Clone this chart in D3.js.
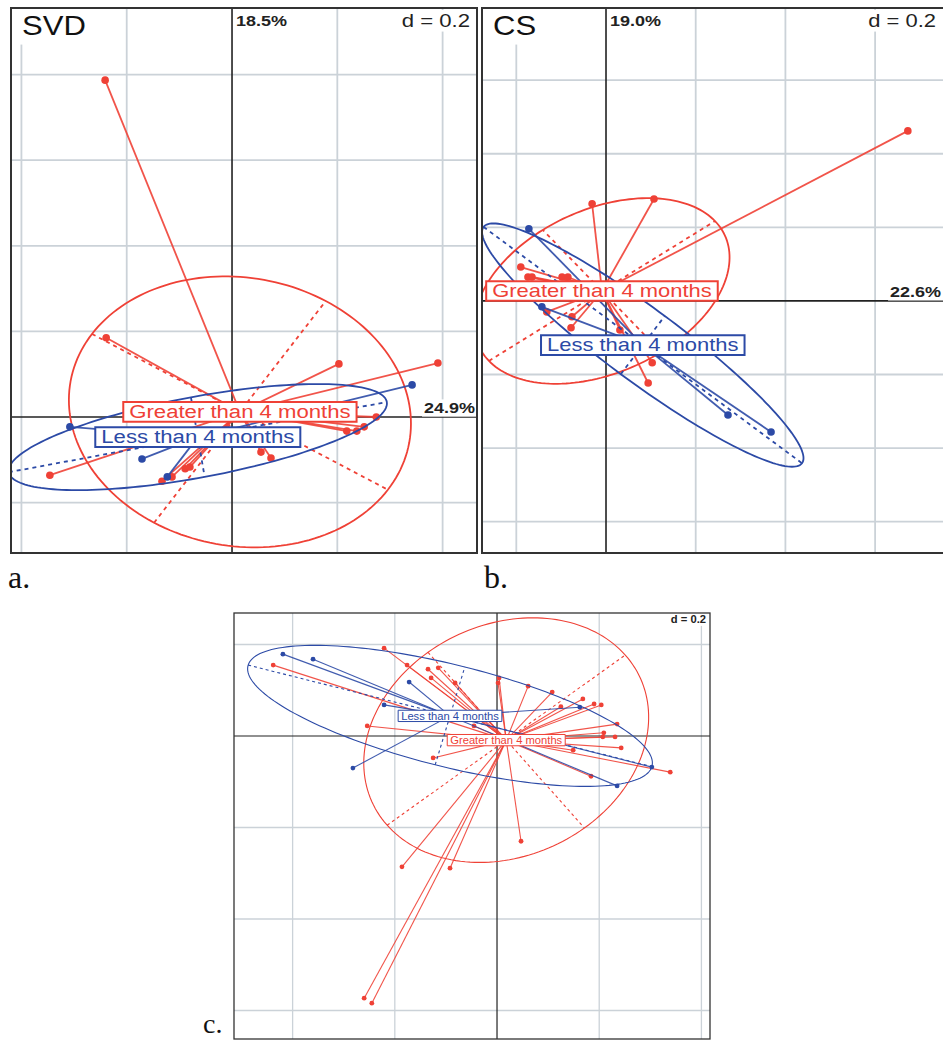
<!DOCTYPE html>
<html><head><meta charset="utf-8">
<script src="https://cdn.jsdelivr.net/npm/d3@7"></script>
<style>body{margin:0;background:#fff}svg{display:block}</style>
</head><body>
<svg id="chart" width="943" height="1041"></svg>
<script>
// ---------------- DATA ----------------
const groupNames = ["Greater than 4 months", "Less than 4 months"];
const gridStep = 0.2;

// Panel a: SVD
const svdGreater = [[-0.241,0.787],[-0.239,0.185],[0.203,0.124],[0.391,0.126],[0.218,-0.033],[0.237,-0.033],[0.251,-0.023],[0.274,0.000],[-0.346,-0.136],[0.055,-0.082],[0.074,-0.096],[-0.133,-0.150],[-0.114,-0.140],[-0.089,-0.121],[-0.080,-0.117]];
const svdLess = [[0.342,0.075],[-0.308,-0.023],[-0.171,-0.098],[-0.123,-0.140]];
const svdCentroids = [[0.015,0.012],[-0.065,-0.047]];
const svdEllipseAxes = [[[0.281,-0.182],[0.163,0.259]],[[0.359,0.082],[0.013,-0.093]]];
const svdInertia = ["24.9%","18.5%"];

// Panel b: CS
const csGreater = [[0.673,0.462],[0.107,0.277],[-0.031,0.264],[-0.190,0.092],[-0.174,0.065],[-0.165,0.065],[-0.098,0.065],[-0.085,0.065],[-0.132,-0.030],[-0.076,-0.043],[-0.078,-0.073],[0.031,-0.079],[0.103,-0.168],[0.094,-0.223]];
const csLess = [[-0.172,0.196],[-0.143,-0.016],[0.272,-0.310],[0.368,-0.356]];
const csCentroids = [[-0.009,0.027],[0.082,-0.120]];
const csEllipseAxes = [[[0.252,0.190],[-0.132,0.166]],[[0.355,-0.321],[0.049,0.079]]];
const csInertia = ["22.6%","19.0%"];

// Panel c
const cGreater = [[-0.438,0.155],[-0.221,0.192],[-0.176,0.155],[-0.135,0.146],[-0.115,0.149],[-0.129,0.127],[-0.082,0.116],[-0.254,0.022],[0.004,0.127],[0.002,0.116],[0.061,0.109],[0.108,0.096],[0.125,0.064],[0.168,0.081],[0.190,0.070],[0.204,0.068],[0.235,0.026],[0.209,0.007],[0.207,-0.002],[0.231,-0.002],[0.243,-0.026],[0.149,-0.031],[0.184,-0.088],[0.339,-0.079],[-0.125,-0.048],[-0.186,-0.286],[-0.092,-0.289],[0.047,-0.230],[-0.260,-0.573],[-0.245,-0.584],[-0.045,0.022]];
const cLess = [[-0.419,0.179],[-0.360,0.168],[-0.172,0.118],[-0.221,0.068],[-0.282,-0.070],[0.162,0.063],[0.303,-0.068],[0.235,-0.109]];
const cCentroids = [[0.018,-0.009],[-0.092,0.044]];
const cEllipseAxes = [[[0.233,0.186],[0.153,-0.192]],[[0.395,-0.111],[0.029,0.107]]];

const panelTitles = ["SVD","CS",""];
const panelLetters = ["a.","b.","c."];

// ---------------- STYLE / LAYOUT ----------------
const RED = "#EF4136", BLUE = "#2C4AA6", GRID = "#CBD2D8";
const FONT = "'Liberation Sans', Arial, sans-serif";
const svg = d3.select("#chart");

const layouts = [
  {id:"a", xd:[-0.4198,0.4653], xr:[11,477], yd:[-0.3178,0.9556], yr:[553,8], sx:1.23, lw:1.8, r:3.8, dash:"4,4", lab:18, frameW:2},
  {id:"b", xd:[-0.2765,0.767], xr:[482,950], yd:[-0.685,0.796], yr:[553,8], sx:1.22, lw:1.8, r:3.8, dash:"4,4", lab:18, frameW:2},
  {id:"c", xd:[-0.5147,0.4168], xr:[234,710], yd:[-0.6623,0.2689], yr:[1039,613], sx:1.12, lw:1.1, r:2.4, dash:"3,3", lab:10, frameW:1.3}
];

function addText(parent, x, y, str, o) {
  const g = parent.append("g").attr("transform", `translate(${x},${y}) scale(${o.sx||1},1)`);
  const t = g.append("text").text(str)
    .attr("font-family", o.family || FONT)
    .attr("font-size", o.size)
    .attr("font-weight", o.weight || "normal")
    .attr("fill", o.fill || "#222")
    .attr("text-anchor", o.anchor || "start")
    .attr("dominant-baseline", o.baseline || "auto");
  if (o.box) {
    const bb = t.node().getBBox();
    const px = (o.padx || 0) / (o.sx || 1), py = o.pady || 0;
    g.insert("rect", "text")
      .attr("x", bb.x - px).attr("y", bb.y - py)
      .attr("width", bb.width + 2*px).attr("height", bb.height + 2*py)
      .attr("fill", "#fff")
      .attr("stroke", o.boxStroke || "none")
      .attr("stroke-width", o.boxStrokeW || 0)
      .attr("vector-effect", "non-scaling-stroke");
  }
  return g;
}

function drawPanel(L, groups, centroids, axes, inertia, title) {
  const x = d3.scaleLinear().domain(L.xd).range(L.xr);
  const y = d3.scaleLinear().domain(L.yd).range(L.yr);
  const W = L.xr[1]-L.xr[0], H = L.yr[0]-L.yr[1];
  svg.append("clipPath").attr("id","clip"+L.id)
    .append("rect").attr("x",L.xr[0]).attr("y",L.yr[1]).attr("width",W).attr("height",H);
  const g = svg.append("g").attr("clip-path",`url(#clip${L.id})`);

  // grid
  const xt = d3.range(Math.ceil(L.xd[0]/gridStep), Math.floor(L.xd[1]/gridStep)+1).map(i=>i*gridStep);
  const yt = d3.range(Math.ceil(L.yd[0]/gridStep), Math.floor(L.yd[1]/gridStep)+1).map(i=>i*gridStep);
  g.selectAll(".gx").data(xt.filter(v=>Math.abs(v)>1e-9)).join("line")
    .attr("x1",d=>x(d)).attr("x2",d=>x(d)).attr("y1",L.yr[1]).attr("y2",L.yr[0])
    .attr("stroke",GRID).attr("stroke-width",L.id==="c"?1.3:1.8);
  g.selectAll(".gy").data(yt.filter(v=>Math.abs(v)>1e-9)).join("line")
    .attr("y1",d=>y(d)).attr("y2",d=>y(d)).attr("x1",L.xr[0]).attr("x2",L.xr[1])
    .attr("stroke",GRID).attr("stroke-width",L.id==="c"?1.3:1.8);
  // axes
  g.append("line").attr("x1",x(0)).attr("x2",x(0)).attr("y1",L.yr[1]).attr("y2",L.yr[0]).attr("stroke","#222").attr("stroke-width",L.id==="c"?1.2:1.6);
  g.append("line").attr("y1",y(0)).attr("y2",y(0)).attr("x1",L.xr[0]).attr("x2",L.xr[1]).attr("stroke","#222").attr("stroke-width",L.id==="c"?1.2:1.6);

  // corner labels with white background
  const top = L.yr[1];
  if (title) addText(g, L.xr[0]+11, top+27, title, {size:27, sx:1.15, fill:"#111", box:true, padx:6, pady:4});
  if (inertia) {
    addText(g, x(0)+4, top+18, inertia[1], {size:15, weight:"bold", sx:1.2, fill:"#222"});
    addText(g, Math.min(L.xr[1],943)-2, y(0)-4, inertia[0], {size:15, weight:"bold", sx:1.2, fill:"#222", anchor:"end", box:true, padx:2, pady:0});
  }
  if (L.id==="c") addText(g, L.xr[1]-4, top+10, "d = 0.2", {size:10, weight:"bold", sx:1.12, fill:"#222", anchor:"end", box:true, padx:2, pady:1});
  else addText(g, Math.min(L.xr[1],943)-7, top+19, "d = 0.2", {size:18, sx:L.sx, fill:"#222", anchor:"end", box:true, padx:3, pady:1});

  const colors = [RED, BLUE];
  const line = d3.line().x(d=>x(d[0])).y(d=>y(d[1]));
  const ts = d3.range(0, 2*Math.PI, Math.PI/90);

  groups.forEach((pts, gi) => {
    const c = centroids[gi], A = axes[gi][0], B = axes[gi][1], col = colors[gi];
    const gg = g.append("g");
    // ellipse
    gg.append("path")
      .attr("d", line.curve(d3.curveLinearClosed)(ts.map(t=>[c[0]+Math.cos(t)*A[0]+Math.sin(t)*B[0], c[1]+Math.cos(t)*A[1]+Math.sin(t)*B[1]])))
      .attr("fill","none").attr("stroke",col).attr("stroke-width",L.lw);
    line.curve(d3.curveLinear);
    // ellipse axes (dashed)
    [A,B].forEach(v=>{
      gg.append("path").attr("d", line([[c[0]-v[0],c[1]-v[1]],[c[0]+v[0],c[1]+v[1]]]))
        .attr("fill","none").attr("stroke",col).attr("stroke-width",L.lw).attr("stroke-dasharray",L.dash);
    });
    // star lines
    gg.selectAll(".s").data(pts).join("line")
      .attr("x1",d=>x(d[0])).attr("y1",d=>y(d[1])).attr("x2",x(c[0])).attr("y2",y(c[1]))
      .attr("stroke",col).attr("stroke-width",L.lw).attr("stroke-opacity",0.9);
    gg.selectAll(".p").data(pts).join("circle")
      .attr("cx",d=>x(d[0])).attr("cy",d=>y(d[1])).attr("r",L.r).attr("fill",col);
  });
  // group labels
  groups.forEach((pts, gi) => {
    const c = centroids[gi], col = colors[gi];
    addText(g, x(c[0]), y(c[1]), groupNames[gi], {size:L.lab, sx:L.sx, fill:col, anchor:"middle", baseline:"central",
      box:true, padx:L.id==="c"?3:6, pady:0, boxStroke:col, boxStrokeW:L.id==="c"?1:2});
  });
  // frame
  svg.append("rect").attr("x",L.xr[0]).attr("y",L.yr[1]).attr("width",W).attr("height",H)
    .attr("fill","none").attr("stroke","#333").attr("stroke-width",L.frameW);
  return {x,y};
}

drawPanel(layouts[0], [svdGreater, svdLess], svdCentroids, svdEllipseAxes, svdInertia, panelTitles[0]);
drawPanel(layouts[1], [csGreater, csLess], csCentroids, csEllipseAxes, csInertia, panelTitles[1]);
drawPanel(layouts[2], [cGreater, cLess], cCentroids, cEllipseAxes, null, panelTitles[2]);

// panel letters
const letterPos = [[8,588,32],[484,588,32],[203,1033,28]];
panelLetters.forEach((s,i)=>{
  svg.append("text").text(s).attr("x",letterPos[i][0]).attr("y",letterPos[i][1])
    .attr("font-family","'Liberation Serif', 'Times New Roman', serif").attr("font-size",letterPos[i][2]).attr("fill","#111");
});
</script>
</body></html>
